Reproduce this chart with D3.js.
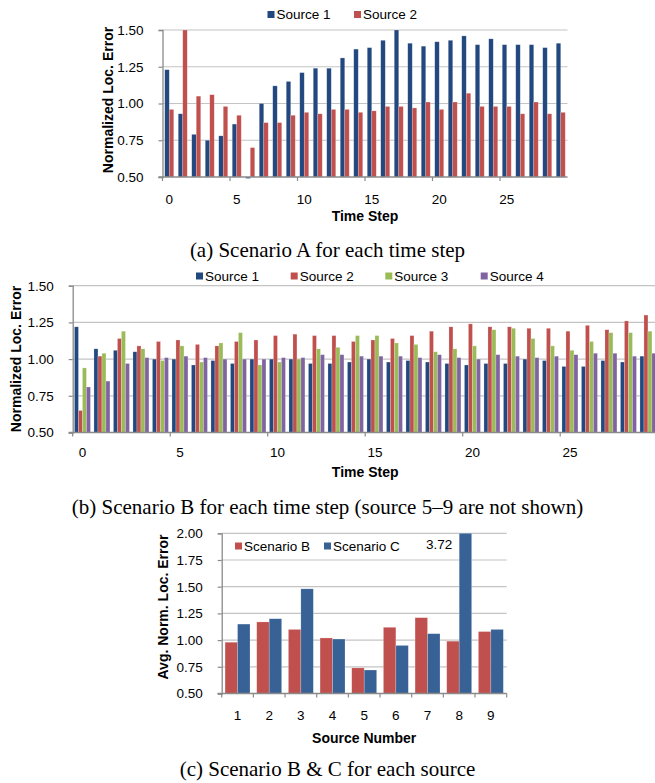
<!DOCTYPE html>
<html>
<head>
<meta charset="utf-8">
<script src="https://cdn.jsdelivr.net/npm/d3@7/dist/d3.min.js"></script>
<style>
body { margin: 0; background: #fff; }
svg text { font-family: "Liberation Sans", Arial, sans-serif; fill: #000; }
svg text.caption { font-family: "Liberation Serif", "Times New Roman", serif; }
</style>
</head>
<body>
<svg id="fig" width="655" height="783"></svg>
<script>
// ---- data ----
var timeSteps = [0,1,2,3,4,5,6,7,8,9,10,11,12,13,14,15,16,17,18,19,20,21,22,23,24,25,26,27,28,29];
var timeLabels = [0,5,10,15,20,25];
var yTicksTime = [0.50,0.75,1.00,1.25,1.50];

// (a) scenario A
var a_source1 = [1.23,0.93,0.79,0.75,0.78,0.86,0.49,1.00,1.12,1.15,1.21,1.24,1.24,1.31,1.37,1.38,1.43,1.50,1.41,1.39,1.42,1.43,1.46,1.40,1.44,1.40,1.40,1.40,1.38,1.41];
var a_source2 = [0.96,1.50,1.05,1.06,0.98,0.92,0.70,0.87,0.87,0.92,0.94,0.93,0.96,0.96,0.94,0.95,0.98,0.98,0.97,1.01,0.96,1.01,1.07,0.98,0.98,0.98,0.93,1.01,0.93,0.94];

// (b) scenario B
var b_source1 = [1.22,1.07,1.06,1.05,1.00,1.00,0.96,0.99,0.97,1.00,1.00,1.00,0.97,0.97,0.98,1.00,0.98,0.99,0.98,0.97,0.96,0.97,0.97,1.00,0.99,0.95,0.95,0.99,0.98,1.02];
var b_source2 = [0.65,1.02,1.14,1.09,1.12,1.13,1.10,1.09,1.12,1.13,1.16,1.17,1.16,1.16,1.12,1.13,1.14,1.16,1.19,1.22,1.24,1.22,1.22,1.21,1.21,1.19,1.23,1.20,1.26,1.30];
var b_source3 = [0.94,1.04,1.19,1.07,0.99,1.09,0.98,1.11,1.18,0.96,0.98,1.00,1.07,1.08,1.16,1.16,1.11,1.10,1.05,1.07,1.09,1.20,1.21,1.14,1.09,1.06,1.12,1.18,1.18,1.19];
var b_source4 = [0.81,0.85,0.97,1.01,1.01,1.02,1.01,1.00,1.00,1.00,1.01,1.01,1.03,1.03,1.02,1.02,1.02,1.01,1.03,1.01,1.00,1.03,1.02,1.01,1.02,1.03,1.04,1.04,1.02,1.04];

// (c) per source
var sourceNumbers = [1,2,3,4,5,6,7,8,9];
var c_scenarioB = [0.98,1.17,1.10,1.02,0.74,1.12,1.21,0.99,1.08];
var c_scenarioC = [1.15,1.20,1.48,1.01,0.72,0.95,1.06,3.72,1.10];
var yTicksSource = [0.50,0.75,1.00,1.25,1.50,1.75,2.00];

var svg = d3.select("#fig");

// one grouped bar panel (Excel-like look)
function barPanel(cfg) {
    var g = svg.append("g");
    var x0 = d3.scaleBand().domain(cfg.cats).range([cfg.left, cfg.right]).padding(0);
    var x1 = d3.scaleBand().domain(d3.range(cfg.series.length))
        .range([0, x0.bandwidth()]).paddingInner(0).paddingOuter(cfg.outer);
    var y = d3.scaleLinear().domain(cfg.yDomain).range([cfg.bottom, cfg.top]);
    var y0 = y(cfg.yDomain[0]);

    g.selectAll(".grid")
        .data(cfg.yTicks.slice(1))
        .enter()
        .append("line")
        .attr("x1", cfg.left)
        .attr("x2", cfg.right)
        .attr("y1", d => y(d))
        .attr("y2", d => y(d))
        .attr("stroke", "#c4c4c4")
        .attr("stroke-width", 1.2);

    cfg.series.forEach(function(s, si) {
        g.selectAll(".bar" + si)
            .data(s.values)
            .enter()
            .append("rect")
            .attr("x", (d, i) => x0(cfg.cats[i]) + x1(si))
            .attr("width", x1.bandwidth())
            .attr("y", d => Math.min(y(Math.min(d, cfg.yDomain[1])), y0))
            .attr("height", d => Math.abs(y0 - y(Math.min(d, cfg.yDomain[1]))))
            .attr("fill", s.color)
            .attr("stroke", "rgba(255,255,255,0.35)")
            .attr("stroke-width", 0.6);
    });

    // y axis
    var ya = d3.axisLeft(y)
        .tickValues(cfg.yTicks)
        .tickSize(4)
        .tickPadding(15)
        .tickFormat(d3.format(".2f"));
    var yg = g.append("g").attr("transform", "translate(" + cfg.left + ",0)").call(ya);
    yg.select(".domain").attr("stroke", "#8a8a8a").attr("stroke-width", 1.3);
    yg.selectAll(".tick line").attr("stroke", "#8a8a8a").attr("stroke-width", 1.2);
    yg.selectAll("text").style("font-size", "13.5px").attr("fill", "#000");

    // x axis: labels centred on categories, ticks on category boundaries
    var xa = d3.axisBottom(x0).tickValues(cfg.xLabels).tickSize(0).tickPadding(cfg.xPad);
    var xg = g.append("g").attr("transform", "translate(0," + y0 + ")").call(xa);
    xg.select(".domain").remove();
    xg.selectAll("text").style("font-size", "13.5px").attr("fill", "#000");

    g.append("line")
        .attr("x1", cfg.left - 4)
        .attr("x2", cfg.right)
        .attr("y1", y0)
        .attr("y2", y0)
        .attr("stroke", "#8a8a8a")
        .attr("stroke-width", 1.5);

    var bounds = cfg.boundaries.map(c => x0(c));
    if (cfg.endTick) bounds.push(cfg.right);
    g.selectAll(".xtick")
        .data(bounds)
        .enter()
        .append("line")
        .attr("x1", d => d)
        .attr("x2", d => d)
        .attr("y1", y0)
        .attr("y2", y0 + 4)
        .attr("stroke", "#8a8a8a")
        .attr("stroke-width", 1.2);

    // axis titles
    g.append("text")
        .attr("transform", "translate(" + cfg.yTitleX + "," + cfg.yTitleY + ") rotate(-90)")
        .attr("dy", "0.35em")
        .style("text-anchor", "middle")
        .style("font-size", "14px")
        .style("font-weight", "bold")
        .text(cfg.yTitle);

    g.append("text")
        .attr("x", (cfg.left + cfg.right) / 2)
        .attr("y", cfg.xTitleY)
        .style("text-anchor", "middle")
        .style("font-size", "14px")
        .style("font-weight", "bold")
        .text(cfg.xTitle);

    // legend
    cfg.series.forEach(function(s, si) {
        g.append("rect")
            .attr("x", cfg.legendX[si])
            .attr("y", cfg.legendY - 3.5)
            .attr("width", 7)
            .attr("height", 7)
            .attr("fill", s.color);
        g.append("text")
            .attr("x", cfg.legendX[si] + 9)
            .attr("y", cfg.legendY)
            .attr("dy", "0.35em")
            .style("font-size", "13.5px")
            .text(s.name);
    });

    svg.append("text")
        .attr("class", "caption")
        .attr("x", 327.5)
        .attr("y", cfg.captionY)
        .style("text-anchor", "middle")
        .style("font-size", "21px")
        .text(cfg.caption);

    return {x0: x0, x1: x1, y: y, g: g};
}

var darkBlue = "#22487f";
var red = "#c0504d";
var green = "#9bbb59";
var purple = "#8064a2";

barPanel({
    cats: timeSteps, xLabels: timeLabels, boundaries: timeLabels, endTick: false,
    left: 162.5, right: 567.5, top: 30, bottom: 177, outer: 0.5, xPad: 17,
    yDomain: [0.5, 1.5], yTicks: yTicksTime,
    series: [
        {name: "Source 1", values: a_source1, color: darkBlue},
        {name: "Source 2", values: a_source2, color: red}
    ],
    yTitle: "Normalized Loc. Error", yTitleX: 108, yTitleY: 100,
    xTitle: "Time Step", xTitleY: 221,
    legendX: [267.5, 354], legendY: 14.5,
    caption: "(a) Scenario A for each time step", captionY: 257
});

barPanel({
    cats: timeSteps, xLabels: timeLabels, boundaries: timeLabels, endTick: false,
    left: 72.7, right: 657.7, top: 285.7, bottom: 432.5, outer: 0.44, xPad: 15,
    yDomain: [0.5, 1.5], yTicks: yTicksTime,
    series: [
        {name: "Source 1", values: b_source1, color: darkBlue},
        {name: "Source 2", values: b_source2, color: red},
        {name: "Source 3", values: b_source3, color: green},
        {name: "Source 4", values: b_source4, color: purple}
    ],
    yTitle: "Normalized Loc. Error", yTitleX: 16.5, yTitleY: 359,
    xTitle: "Time Step", xTitleY: 477,
    legendX: [196, 290.7, 385.3, 480.7], legendY: 276,
    caption: "(b) Scenario B for each time step (source 5\u20139 are not shown)", captionY: 514
});

var pc = barPanel({
    cats: sourceNumbers, xLabels: sourceNumbers, boundaries: sourceNumbers, endTick: true,
    left: 221.7, right: 506.7, top: 533.3, bottom: 693.5, outer: 0.27, xPad: 17,
    yDomain: [0.5, 2.0], yTicks: yTicksSource,
    series: [
        {name: "Scenario B", values: c_scenarioB, color: red},
        {name: "Scenario C", values: c_scenarioC, color: "#386196"}
    ],
    yTitle: "Avg. Norm. Loc. Error", yTitleX: 163, yTitleY: 607,
    xTitle: "Source Number", xTitleY: 742.5,
    legendX: [235, 324], legendY: 546,
    caption: "(c) Scenario B & C for each source", captionY: 776
});

// value label for the clipped bar
var clipIdx = c_scenarioC.indexOf(d3.max(c_scenarioC));
pc.g.append("text")
    .attr("x", pc.x0(sourceNumbers[clipIdx]) + pc.x1(1) - 20)
    .attr("y", pc.y(2.0) + 15.5)
    .style("text-anchor", "middle")
    .style("font-size", "13.5px")
    .text(d3.format(".2f")(c_scenarioC[clipIdx]));
</script>
</body>
</html>
